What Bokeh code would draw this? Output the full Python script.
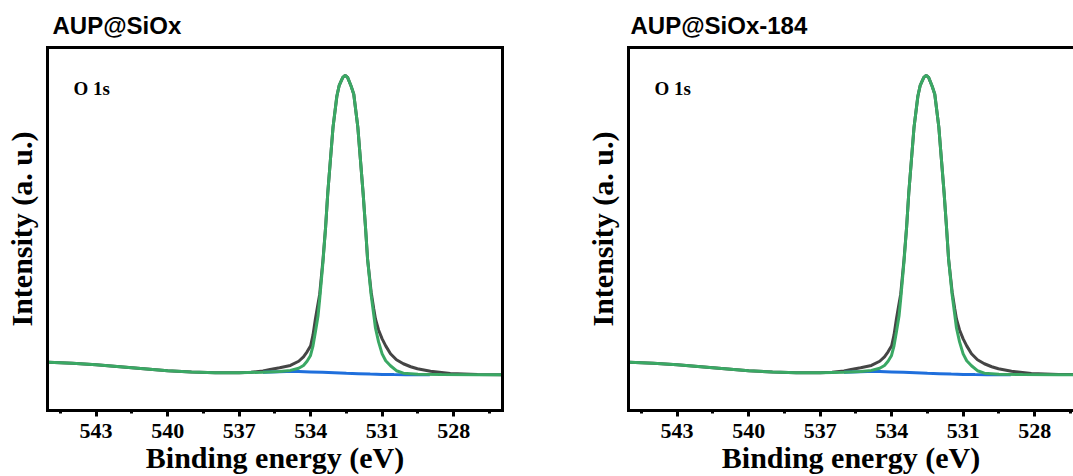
from bokeh.plotting import figure
from bokeh.models import Range1d, FixedTicker, LinearAxis, Label
from bokeh.layouts import row
from bokeh.embed import file_html
from bokeh.resources import INLINE

# ---- data ----
panel_titles = ["AUP@SiOx", "AUP@SiOx-184"]
core_level = "O 1s"
major_ticks = [543, 540, 537, 534, 531, 528]
minor_ticks = [544.5, 541.5, 538.5, 535.5, 532.5, 529.5, 526.5]

# experimental spectrum (binding energy eV, intensity a.u.)
be_exp = [545.0, 544.0, 543.0, 542.0, 541.0, 540.0, 539.0, 538.0, 537.0, 536.5,
          536.0, 535.7, 535.3, 534.85, 534.5, 534.3, 534.15, 534.0, 533.9, 533.8,
          533.7, 533.62, 533.48, 533.37, 533.28, 533.17, 533.06, 532.9, 532.8, 532.65,
          532.55, 532.45, 532.3, 532.19, 532.02, 531.91, 531.8, 531.7, 531.61, 531.46,
          531.35, 531.28, 531.15, 531.0, 530.85, 530.65, 530.4, 530.11, 529.8, 529.52,
          528.97, 528.14, 527.0, 526.0]
int_exp = [4.85, 4.75, 4.6, 4.4, 4.2, 4.0, 3.87, 3.8, 3.8, 3.85,
           3.98, 4.13, 4.3, 4.53, 4.95, 5.4, 5.9, 6.5, 7.6, 9.2,
           10.6, 11.7, 15.2, 18.5, 21.9, 25.2, 28.5, 31.6, 32.7, 33.5,
           33.7, 33.5, 32.6, 31.8, 28.5, 25.2, 21.9, 18.5, 15.2, 11.9,
           10.2, 9.2, 8.1, 7.2, 6.5, 5.7, 5.1, 4.7, 4.4, 4.2,
           3.95, 3.72, 3.62, 3.6]

# fitted envelope
be_fit = [545.0, 544.0, 543.0, 542.0, 541.0, 540.0, 539.0, 538.0, 537.0, 536.0,
          535.3, 534.85, 534.5, 534.3, 534.15, 534.01, 533.9, 533.8, 533.69, 533.62,
          533.48, 533.37, 533.28, 533.17, 533.06, 532.9, 532.8, 532.65, 532.55, 532.45,
          532.3, 532.19, 532.02, 531.91, 531.8, 531.7, 531.61, 531.46, 531.35, 531.28,
          531.15, 531.0, 530.85, 530.65, 530.4, 530.11, 529.5, 528.5, 527.0, 526.0]
int_fit = [4.85, 4.75, 4.6, 4.4, 4.2, 4.0, 3.87, 3.8, 3.8, 3.85,
           3.92, 4.03, 4.25, 4.53, 4.95, 5.5, 6.5, 7.9, 9.5, 11.2,
           15.0, 18.5, 21.9, 25.2, 28.5, 31.6, 32.7, 33.5, 33.7, 33.5,
           32.6, 31.8, 28.5, 25.2, 21.9, 18.5, 15.2, 11.6, 9.6, 8.3,
           6.9, 5.7, 5.0, 4.5, 4.0, 3.75, 3.65, 3.62, 3.6, 3.6]

# background
be_bg = [536.0, 535.0, 534.5, 534.0, 533.5, 533.0, 532.5, 532.0, 531.5, 531.0,
         530.5, 530.0, 529.0]
int_bg = [3.85, 3.92, 3.91, 3.88, 3.84, 3.79, 3.74, 3.7, 3.66, 3.63,
          3.61, 3.6, 3.6]

# ---- style ----
X_START = 545.04
Y_MAX = 36.5
C_EXP = "#454545"
C_FIT = "#3aa864"
C_BG = "#1f6fdc"
SERIF = "Liberation Serif"
SANS = "Liberation Sans"


def make_panel(title, width, x_end, b_left, b_right, with_right, t_offset):
    p = figure(width=width, height=476,
               x_range=Range1d(X_START, x_end), y_range=Range1d(0, Y_MAX),
               x_axis_location=None, y_axis_location=None,
               output_backend="svg", toolbar_location=None,
               min_border_left=b_left, min_border_right=b_right,
               min_border_top=47, min_border_bottom=64)
    p.outline_line_color = None
    p.xgrid.visible = False
    p.ygrid.visible = False
    p.background_fill_color = "white"
    p.border_fill_color = "white"

    p.title.text = title
    p.title.align = "left"
    p.title.offset = t_offset
    p.title.text_font = SANS
    p.title.text_font_size = "24px"
    p.title.text_font_style = "bold"
    p.title.text_color = "black"
    p.title.standoff = 17

    xb = LinearAxis(ticker=FixedTicker(ticks=major_ticks, minor_ticks=minor_ticks),
                    axis_label="Binding energy (eV)")
    xb.axis_line_width = 3
    xb.axis_line_cap = "square"
    xb.major_tick_line_width = 3
    xb.minor_tick_line_width = 3
    xb.major_tick_in = 0
    xb.major_tick_out = 6
    xb.minor_tick_in = 0
    xb.minor_tick_out = 3
    xb.major_label_text_font = SERIF
    xb.major_label_text_font_style = "bold"
    xb.major_label_text_font_size = "22px"
    xb.major_label_text_color = "black"
    xb.major_label_standoff = 7
    xb.axis_label_text_font = SERIF
    xb.axis_label_text_font_style = "bold"
    xb.axis_label_text_font_size = "30px"
    xb.axis_label_text_color = "black"
    xb.axis_label_standoff = 0
    p.add_layout(xb, "below")

    yl = LinearAxis(ticker=FixedTicker(ticks=[]), axis_label="Intensity (a. u.)")
    yl.axis_line_width = 3
    yl.axis_line_cap = "square"
    yl.major_tick_line_color = None
    yl.minor_tick_line_color = None
    yl.major_label_text_font_size = "0px"
    yl.major_label_standoff = 0
    yl.axis_label_text_font = SERIF
    yl.axis_label_text_font_style = "bold"
    yl.axis_label_text_font_size = "30px"
    yl.axis_label_text_color = "black"
    yl.axis_label_standoff = 10
    p.add_layout(yl, "left")

    def plain_axis():
        a = LinearAxis(ticker=FixedTicker(ticks=[]))
        a.axis_line_width = 3
        a.axis_line_cap = "square"
        a.major_tick_line_color = None
        a.minor_tick_line_color = None
        a.major_tick_out = 0
        a.minor_tick_out = 0
        a.major_label_text_font_size = "0px"
        a.major_label_standoff = 0
        return a

    p.add_layout(plain_axis(), "above")
    if with_right:
        p.add_layout(plain_axis(), "right")

    p.line(be_exp, int_exp, line_color=C_EXP, line_width=3)
    p.line(be_bg, int_bg, line_color=C_BG, line_width=3)
    p.line(be_fit, int_fit, line_color=C_FIT, line_width=3)

    p.add_layout(Label(x=543.95, y=32.4, text=core_level, text_font=SERIF,
                       text_font_style="bold", text_font_size="19px",
                       text_color="black", text_baseline="alphabetic"))
    return p


p1 = make_panel(panel_titles[0], 580, 525.95, 47, 78, True, 5)
p2 = make_panel(panel_titles[1], 493, 526.37, 48, 0, False, 2)
layout = row(p1, p2)

open("out.html", "w").write(file_html(layout, INLINE))
